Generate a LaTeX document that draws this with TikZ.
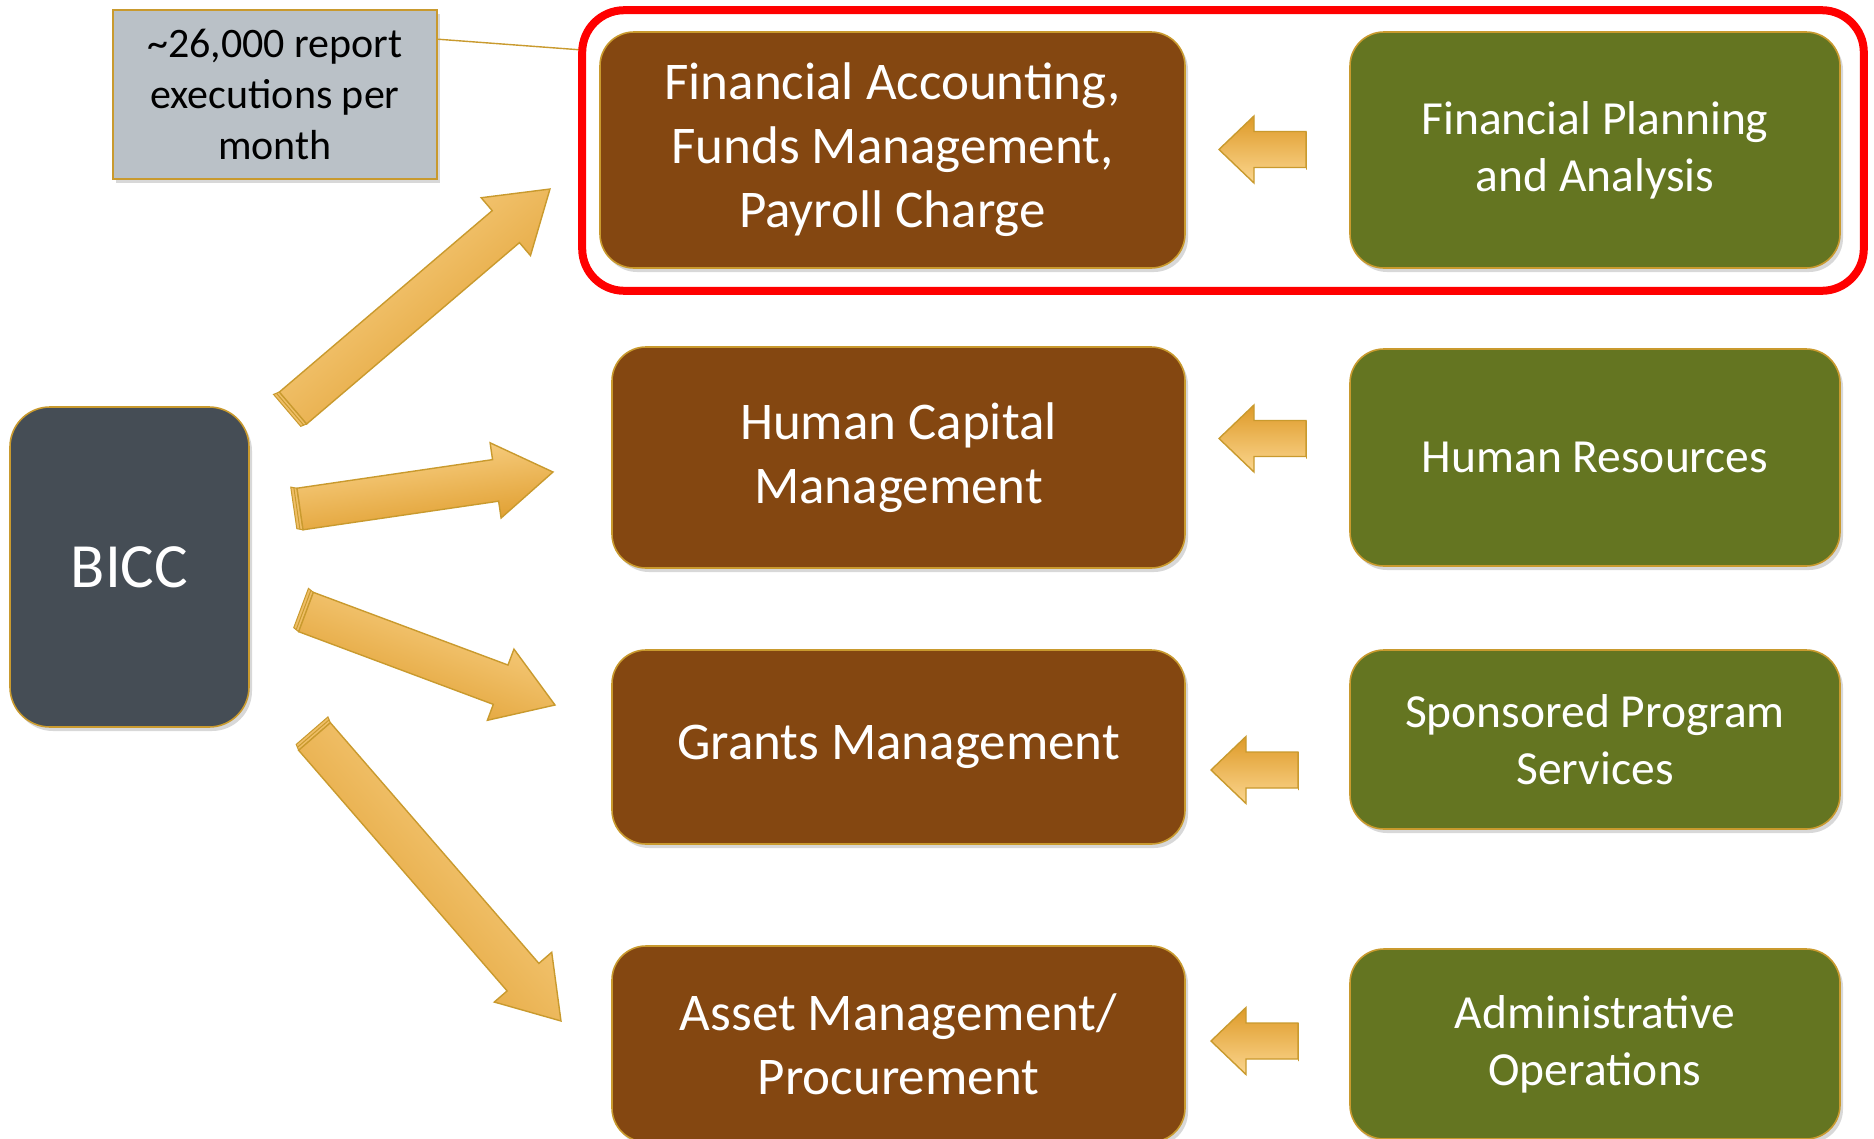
\documentclass[tikz,border=0pt]{standalone}
\usepackage{fontspec}
\setmainfont{Carlito}
\usepackage{tikz}
\usetikzlibrary{calc,shadows}

\definecolor{boxbrown}{HTML}{844711}
\definecolor{boxgreen}{HTML}{647521}
\definecolor{boxslate}{HTML}{454D55}
\definecolor{notegray}{HTML}{BAC1C7}
\definecolor{boxgold}{HTML}{C99A2E}
\definecolor{arrlight}{HTML}{FBD68F}
\definecolor{arrdark}{HTML}{DE9A28}

% fat block arrow: tail, tip, shaft half width, head half width, head length, tail edge
\newcommand{\fatarrow}[6]{%
  \path let \p1=($(#2)-(#1)$) in
    \pgfextra{\pgfmathsetmacro\faang{atan2(\y1,\x1)}\pgfmathsetmacro\falen{veclen(\x1,\y1)}%
      \xdef\faang{\faang}\xdef\falen{\falen}};
  \begin{scope}[shift={(#1)},rotate=\faang]
    \draw[arredge] (0,#3) -- (-#6,#3-2) -- (-#6,-#3-2) -- (0,-#3) -- cycle;
    \draw[boxgold, line width=1pt] (-#6/2,#3-1) -- (-#6/2,-#3-1);
    \draw[arrfill] (0,#3) -- ({\falen-#5},#3) -- ({\falen-#5},#4) -- (\falen,0)
      -- ({\falen-#5},-#4) -- ({\falen-#5},-#3) -- (0,-#3) -- cycle;
  \end{scope}}

\begin{document}
\begin{tikzpicture}[x=1pt,y=-1pt,
    box/.style={rounded corners=34pt, draw=boxgold, line width=1.6pt, text=white, align=center,
      drop shadow={shadow xshift=3pt, shadow yshift=-4pt, opacity=0.3}},
    brownbox/.style={box, fill=boxbrown, minimum width=573pt, font=\fontsize{53pt}{64pt}\selectfont},
    greenbox/.style={box, fill=boxgreen, minimum width=490pt, font=\fontsize{47.5pt}{57pt}\selectfont},
    arrfill/.style={draw=boxgold, line width=1.4pt, top color=arrlight, bottom color=arrdark, shading angle=\faang},
    arredge/.style={draw=boxgold, line width=1pt, fill=arrlight!60!arrdark}]
    \useasboundingbox (0,0) rectangle (1874,1138);
    \fill[white] (0,0) rectangle (1874,1138);

    % left side
    \node[box, fill=boxslate, rounded corners=40pt, minimum width=239pt, minimum height=320pt,
      font=\fontsize{63pt}{70pt}\selectfont] (bicc) at (129.5,567) {BICC};
    \node[draw=boxgold, line width=1.6pt, fill=notegray, align=center, minimum width=324pt, minimum height=169pt,
      font=\fontsize{42pt}{51pt}\selectfont, drop shadow={shadow xshift=3pt, shadow yshift=-4pt, opacity=0.3}]
      (note) at (275,94.5) {\textasciitilde 26,000 report\\executions per\\month};

    % modules
    \node[brownbox, minimum width=585pt, minimum height=236pt] (fa) at (892.5,150) {Financial Accounting,\\Funds Management,\\Payroll Charge};
    \node[brownbox, minimum height=221pt] (hcm) at (898.5,457.5) {Human Capital\\Management};
    \node[brownbox, minimum height=194pt] (gm) at (898.5,747) {Grants Management};
    \node[brownbox, minimum height=196pt] (am) at (898.5,1044) {Asset Management/\\Procurement};

    % offices
    \node[greenbox, minimum height=236pt] (fpa) at (1595,150) {Financial Planning\\and Analysis};
    \node[greenbox, minimum height=217pt] (hr) at (1595,457.5) {Human Resources};
    \node[greenbox, minimum height=179pt] (sps) at (1595,739.5) {Sponsored Program\\Services};
    \node[greenbox, minimum height=190pt] (ao) at (1595,1044) {Administrative\\Operations};

    % highlight
    \coordinate (hlw) at ($(fa.north west)+(-14,19)$);
    \draw[boxgold, line width=1.4pt] ($(note.north east)+(0,30)$) -- (hlw);
    \draw[red, line width=8pt, rounded corners=42pt] ($(fa.north west)+(-17,-21)$) rectangle ($(fpa.south east)+(23,22)$);

    % arrows out of BICC
    \coordinate (t1) at (293,408);   \coordinate (p1) at (550,189);
    \coordinate (t2) at (300,509);   \coordinate (p2) at (553,472);
    \coordinate (t3) at (306,612);   \coordinate (p3) at (555,705);
    \coordinate (t4) at (314.5,736.5); \coordinate (p4) at (561,1021);
    \fatarrow{t1}{p1}{21}{38}{58}{6}
    \fatarrow{t2}{p2}{21}{38}{58}{6}
    \fatarrow{t3}{p3}{21}{38}{58}{6}
    \fatarrow{t4}{p4}{21}{38}{58}{6}

    % arrows from offices
    \coordinate (s1) at (1306,149.5); \coordinate (q1) at (1219,149.5);
    \coordinate (s2) at (1306,438.5); \coordinate (q2) at (1219,438.5);
    \coordinate (s3) at (1298,770);   \coordinate (q3) at (1211,770);
    \coordinate (s4) at (1298,1041);  \coordinate (q4) at (1211,1041);
    \fatarrow{s1}{q1}{18}{33.5}{35}{0}
    \fatarrow{s2}{q2}{18}{33.5}{35}{0}
    \fatarrow{s3}{q3}{18}{33.5}{35}{0}
    \fatarrow{s4}{q4}{18}{33.5}{35}{0}
\end{tikzpicture}
\end{document}
